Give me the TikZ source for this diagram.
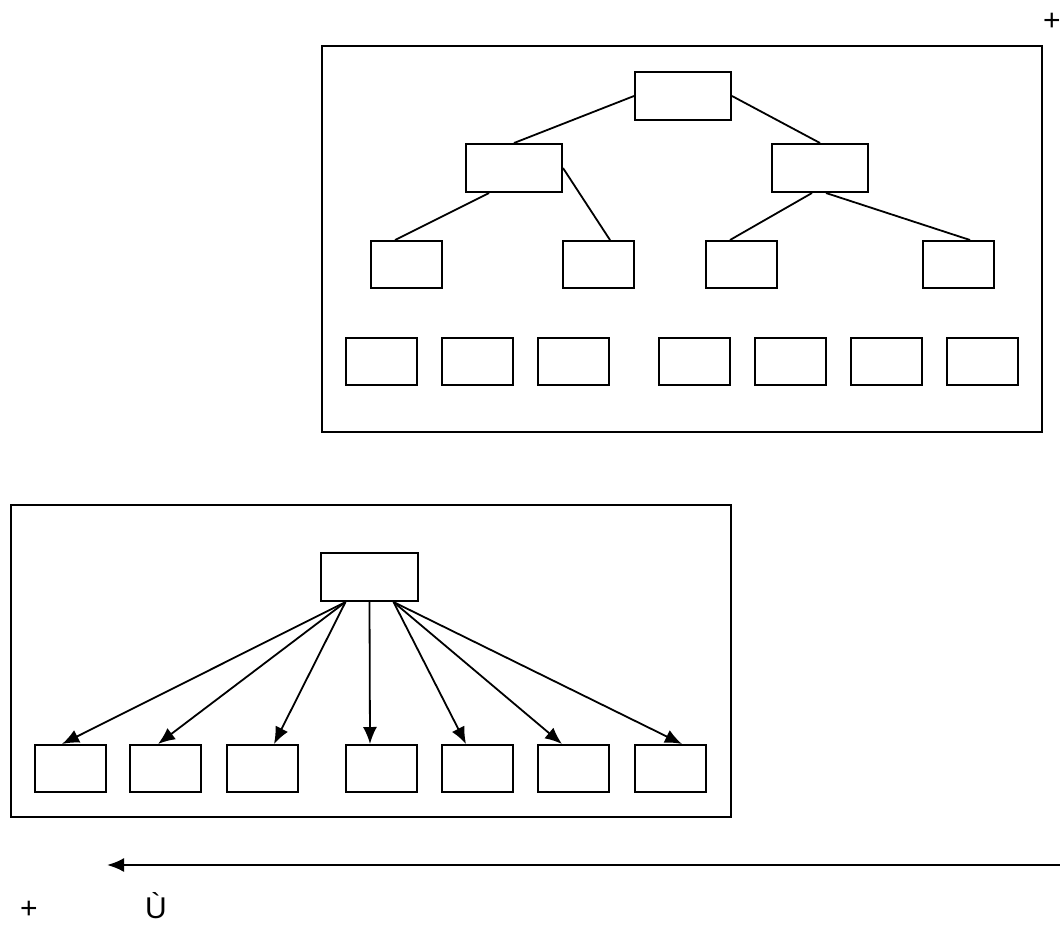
\documentclass[tikz,border=0pt]{standalone}
\usepackage{fontspec}
\setmainfont{Liberation Sans}
\usetikzlibrary{arrows.meta}
\tikzset{
  frame/.style={draw, line width=2pt},
  box/.style={draw, line width=2pt, inner sep=0pt, minimum width=71pt, minimum height=47pt},
  wide/.style={box, minimum width=96pt, minimum height=48pt},
  link/.style={line width=1.8pt},
  arr/.style={line width=1.8pt, -{Latex[length=17pt,width=14pt]}},
  glyph/.style={inner sep=0pt, anchor=base west, font=\fontsize{30}{34}\selectfont}
}
\begin{document}
\begin{tikzpicture}[x=1pt,y=-1pt]
\useasboundingbox (0,0) rectangle (1060,924);
% upper frame: tree
\draw[frame] (322,46) rectangle (1042,432);
\node[wide] (t0) at (683,96) {};
\node[wide] (tl) at (514,168) {};
\node[wide] (tr) at (820,168) {};
\node[box] (t1) at (406,264.5) {};
\node[box] (t2) at (598,264.5) {};
\node[box] (t3) at (741.5,264.5) {};
\node[box] (t4) at (958,264.5) {};
\foreach \i/\x in {1/381.5,2/477.5,3/573.5,4/694.5,5/790.5,6/886.5,7/982.5}
  \node[box] (s\i) at (\x,361) {};
\draw[link] (t0.west) -- (tl.north);
\draw[link] (t0.east) -- (tr.north);
\draw[link] (tl.225) -- ([xshift=-11pt]t1.north);
\draw[link] (tl.east) -- ([xshift=12pt]t2.north);
\draw[link] ([xshift=-8pt]tr.south) -- ([xshift=-11.5pt]t3.north);
\draw[link] ([xshift=6pt]tr.south) -- ([xshift=12pt]t4.north);
% lower frame: flat
\draw[frame] (11,505) rectangle (731,817);
\node[box, minimum width=97pt, minimum height=48pt] (b0) at (369.5,577) {};
\foreach \i/\x in {1/70,2/165.5,3/262,4/381.5,5/477.5,6/573.5,7/670}
  \node[box] (c\i) at (\x,768.5) {};
\draw[arr] ([xshift=-24pt]b0.south) -- ([xshift=-8pt]c1.north);
\draw[arr] ([xshift=-24pt]b0.south) -- ([xshift=-7.5pt]c2.north);
\draw[arr] ([xshift=-24pt]b0.south) -- ([xshift=12pt]c3.north);
\draw[arr] (b0.south) -- ([xshift=-11.5pt]c4.north);
\draw[arr] ([xshift=24pt]b0.south) -- ([xshift=-11.5pt]c5.north);
\draw[arr] ([xshift=24pt]b0.south) -- ([xshift=-11.5pt]c6.north);
\draw[arr] ([xshift=24pt]b0.south) -- ([xshift=12pt]c7.north);
% bottom arrow and marks
\coordinate (arrR) at (1064,865);
\coordinate (arrL) at (107,865);
\draw[arr, line width=2.2pt] (arrR) -- (arrL);
\node[glyph] (plusA) at (1043,30) {+};
\node[glyph] (plusB) at (20,918) {+};
\node[glyph] (uGrave) at (145,918) {Ù};
\end{tikzpicture}
\end{document}
